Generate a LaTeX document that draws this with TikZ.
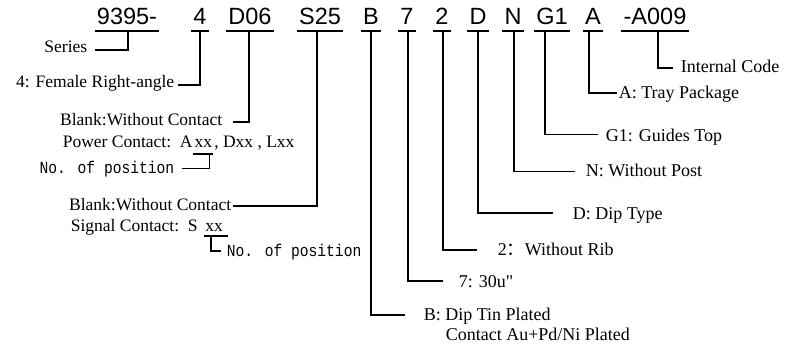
\documentclass[tikz,border=0pt]{standalone}
\usepackage{fontspec}
\setmainfont{Liberation Serif}
\newfontfamily\rawserif{Liberation Serif}
\newfontfamily\codefont{Liberation Sans}
\newfontfamily\monofont[FakeStretch=0.86]{Liberation Mono}
\newfontfamily\cjk{Noto Sans CJK SC}
\begin{document}
\begin{tikzpicture}[x=1pt,y=-1pt,line width=1.6pt,
  code/.style={font=\codefont\fontsize{23.5}{28}\selectfont,inner xsep=1.5pt,inner ysep=0pt,anchor=base},
  lab/.style={font=\fontsize{17.5}{20}\selectfont,inner sep=0pt},
  rlab/.style={font=\fontsize{18}{20}\selectfont,inner sep=0pt,anchor=base west},
  mono/.style={font=\monofont\fontsize{17}{20}\selectfont,inner sep=0pt},
  conn/.style={line width=1.6pt}]
\useasboundingbox (0,0) rectangle (799,350);
% code parts
\node[code] (c1) at (127,25) {9395-};
\node[code] (c2) at (200,25) {4};
\node[code] (c3) at (250,25) {D06};
\node[code] (c4) at (320,25) {S25};
\node[code] (c5) at (371,25) {B};
\node[code] (c6) at (407,25) {7};
\node[code] (c7) at (442,25) {2};
\node[code] (c8) at (478,25) {D};
\node[code] (c9) at (513,25) {N};
\node[code] (c10) at (552,25) {G1};
\node[code] (c11) at (593,25) {A};
\node[code] (c12) at (655,25) {-A009};
\foreach \c in {c1,c2,c3,c4,c5,c6,c7,c8,c9,c10,c11,c12}{
  \draw[conn] ([yshift=-6pt]\c.base west) -- ([yshift=-6pt]\c.base east);
}
% labels
\node[lab,anchor=base east] (L1) at (88,53) {Series};
\node[lab,anchor=base east] (L2) at (175,87.5) {4: Female Right-angle};
\node[lab,anchor=base east] (L3) at (223,125) {Blank:Without Contact};
\node[lab,anchor=base west] (pc) at (62,147) {Power Contact:~~A};
\node[lab,anchor=base west,inner xsep=0.5pt] (axx) at (pc.base east) {xx};
\node[lab,anchor=base west] (pc2) at (axx.base east) {, Dxx , Lxx};
\node[mono,anchor=base east] (np1) at (175,173) {No. of position};
\node[lab,anchor=base east] (L4) at (232,210) {Blank:Without Contact};
\node[lab,anchor=base west] (sc) at (70,231) {Signal Contact:~~S};
\node[lab,anchor=base west,inner xsep=0pt] (sxx) at ([xshift=6pt]sc.base east) {xx};
\node[mono,anchor=base west] (np2) at (226,256) {No. of position};
\node[rlab] (L5) at (423,320) {B: Dip Tin Plated};
\node[rlab] (L5b) at (445,340) {Contact Au+Pd/Ni Plated};
\node[rlab] (L6) at (458,287) {7: 30u{\rawserif "}};
\node[rlab] (L7) at (497,255) {2{\cjk ：}Without Rib};
\node[rlab] (L8) at (572,219) {D: Dip Type};
\node[rlab] (L9) at (585,176) {N: Without Post};
\node[rlab] (L10) at (605,141) {G1: Guides Top};
\node[rlab] (L11) at (618,99) {A: Tray Package};
\node[rlab] (L12) at (680,72.7) {Internal Code};
% underlines of xx
\draw[conn] ([yshift=-7pt]axx.base west) -- ([yshift=-7pt]axx.base east);
\draw[conn] ([yshift=-5pt]sxx.base west) -- ([xshift=4pt,yshift=-5pt]sxx.base east);
% connectors
\draw[conn] ([xshift=1pt,yshift=-6pt]c1.base) |- ([xshift=7pt,yshift=3pt]L1.base east);
\draw[conn] ([yshift=-6pt]c2.base) |- ([xshift=3pt,yshift=2.5pt]L2.base east);
\draw[conn] ([xshift=-1pt,yshift=-6pt]c3.base) |- ([xshift=10pt,yshift=3pt]L3.base east);
\draw[conn] ([xshift=-4pt,yshift=-7pt]axx.base east) |- ([xshift=7pt,yshift=4.5pt]np1.base east);
\draw[conn] ([xshift=-3pt,yshift=-6pt]c4.base) |- ([xshift=1pt,yshift=4pt]L4.base east);
\draw[conn] ([xshift=-3pt,yshift=-5pt]sxx.base) |- ([xshift=-5pt,yshift=5pt]np2.base west);
\draw[conn] ([yshift=-6pt]c5.base) |- ([xshift=-18pt,yshift=5pt]L5.base west);
\draw[conn] ([xshift=1pt,yshift=-6pt]c6.base) |- ([xshift=-15pt,yshift=6pt]L6.base west);
\draw[conn] ([xshift=1pt,yshift=-6pt]c7.base) |- ([xshift=-20pt,yshift=5pt]L7.base west);
\draw[conn] ([yshift=-6pt]c8.base) |- ([xshift=-19pt,yshift=6pt]L8.base west);
\draw[conn] ([xshift=1pt,yshift=-6pt]c9.base) |- ([xshift=-10pt,yshift=4.5pt]L9.base west);
\draw[conn] ([xshift=-7pt,yshift=-6pt]c10.base) |- ([xshift=-7pt,yshift=6.5pt]L10.base west);
\draw[conn] ([xshift=-4pt,yshift=-6pt]c11.base) |- ([xshift=-1pt,yshift=6pt]L11.base west);
\draw[conn] ([xshift=3pt,yshift=-6pt]c12.base) |- ([xshift=-7pt,yshift=4.5pt]L12.base west);
\end{tikzpicture}
\end{document}
